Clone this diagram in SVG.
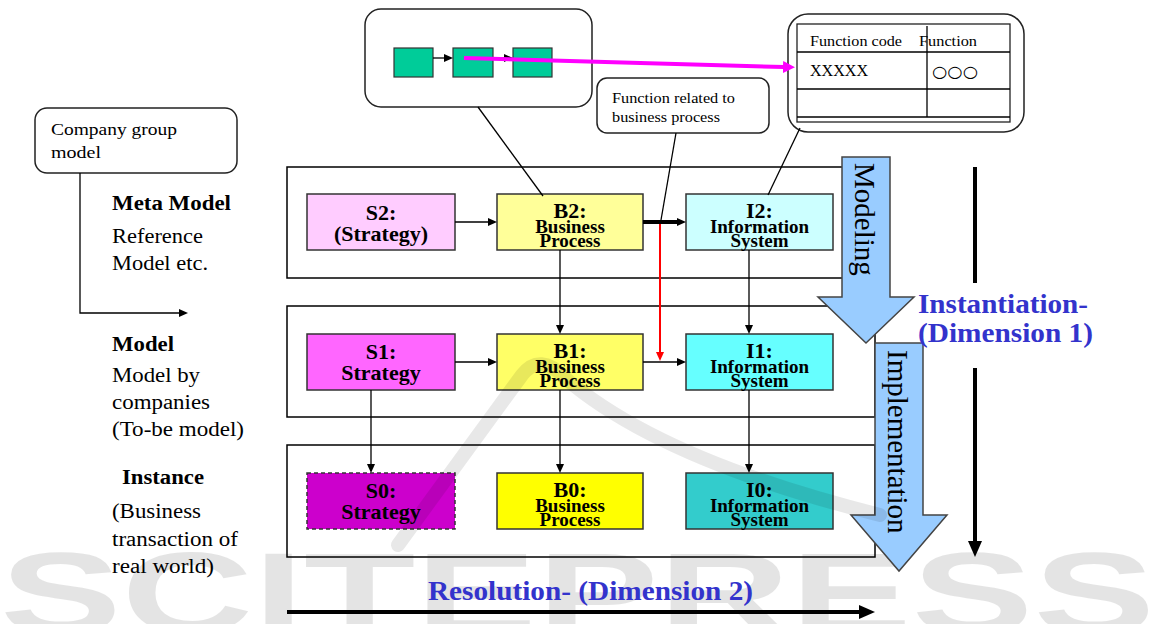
<svg xmlns="http://www.w3.org/2000/svg" width="1161" height="624" viewBox="0 0 1161 624">
<style>
.frame{fill:none;stroke:#000;stroke-width:1.5}
.node{stroke:#333;stroke-width:1.5}
.rbox{fill:#fff;stroke:#222;stroke-width:1.5}
.ln{fill:none;stroke:#000;stroke-width:1.3}
.t{font-family:"Liberation Serif","Times New Roman",serif;fill:#000}
.nb{font-family:"Liberation Serif","Times New Roman",serif;font-weight:bold;fill:#000;text-anchor:middle}
.blue{font-family:"Liberation Serif","Times New Roman",serif;font-weight:bold;fill:#3333CC}
.blk{fill:#99CCFF;stroke:#444;stroke-width:1.5}
</style>
<defs>
<marker id="a" viewBox="0 0 9 8" refX="1" refY="4" markerWidth="9" markerHeight="8" markerUnits="userSpaceOnUse" orient="auto"><path d="M0,0 L9,4 L0,8 z" fill="#000"/></marker>
<marker id="ar" viewBox="0 0 9 8" refX="1" refY="4" markerWidth="9" markerHeight="8" markerUnits="userSpaceOnUse" orient="auto"><path d="M0,0 L9,4 L0,8 z" fill="#FF0000"/></marker>
<marker id="am" viewBox="0 0 12 12" refX="1" refY="6" markerWidth="12" markerHeight="12" markerUnits="userSpaceOnUse" orient="auto"><path d="M0,0 L12,6 L0,12 z" fill="#FF00FF"/></marker>
<marker id="ab" viewBox="0 0 16 14" refX="1" refY="7" markerWidth="16" markerHeight="14" markerUnits="userSpaceOnUse" orient="auto"><path d="M0,0 L16,7 L0,14 z" fill="#000"/></marker>
</defs>
<rect width="1161" height="624" fill="#fff"/>

<!-- watermark (behind) -->
<g id="watermark" opacity="0.1">
<text x="0" y="633" font-family="Liberation Sans,Arial,sans-serif" font-weight="bold" font-size="115" textLength="1155" lengthAdjust="spacingAndGlyphs" fill="#000">SCITEPRESS</text>
</g>

<!-- layer frames -->
<g id="frames">
<rect class="frame" x="287" y="167" width="588" height="111"/>
<rect class="frame" x="287" y="306" width="588" height="111"/>
<rect class="frame" x="287" y="445" width="588" height="112"/>
</g>

<!-- top process box -->
<g id="process-box">
<rect class="rbox" x="365" y="9" width="227" height="98" rx="16"/>
<rect x="394" y="48" width="39" height="29" fill="#00CC99" stroke="#333" stroke-width="1.2"/>
<rect x="453" y="48" width="40" height="29" fill="#00CC99" stroke="#333" stroke-width="1.2"/>
<rect x="513" y="48" width="39" height="29" fill="#00CC99" stroke="#333" stroke-width="1.2"/>
<line class="ln" x1="433" y1="58" x2="445" y2="58" marker-end="url(#a)"/>
<line class="ln" x1="493" y1="58" x2="505" y2="58" marker-end="url(#a)"/>
</g>

<!-- function table -->
<g id="function-table">
<rect class="rbox" x="788" y="14" width="236" height="118" rx="20"/>
<rect x="797" y="24" width="213" height="98" fill="none" stroke="#222" stroke-width="1.3"/>
<line class="ln" x1="797" y1="52" x2="1010" y2="52"/>
<line class="ln" x1="797" y1="89" x2="1010" y2="89"/>
<line class="ln" x1="797" y1="117" x2="1010" y2="117"/>
<line class="ln" x1="927" y1="26" x2="927" y2="117"/>
<text class="t" x="810" y="46" font-size="15.5" textLength="92" lengthAdjust="spacingAndGlyphs">Function code</text>
<text class="t" x="919" y="46" font-size="15.5" textLength="58" lengthAdjust="spacingAndGlyphs">Function</text>
<text class="t" x="810" y="76" font-size="16" textLength="58" lengthAdjust="spacingAndGlyphs">XXXXX</text>
<text x="932" y="77" font-size="16" font-family="DejaVu Sans,sans-serif" textLength="46" lengthAdjust="spacingAndGlyphs">○○○</text>
</g>

<!-- callout -->
<g id="callout">
<rect class="rbox" x="597" y="78" width="172" height="55" rx="10"/>
<text class="t" x="612" y="103" font-size="15.5" textLength="123" lengthAdjust="spacingAndGlyphs">Function related to</text>
<text class="t" x="612" y="122" font-size="15.5" textLength="108" lengthAdjust="spacingAndGlyphs">business process</text>
</g>

<!-- company group model -->
<g id="company-group">
<rect class="rbox" x="35" y="108" width="202" height="65" rx="12"/>
<text class="t" x="51" y="135" font-size="17" textLength="126" lengthAdjust="spacingAndGlyphs">Company group</text>
<text class="t" x="51" y="158" font-size="17" textLength="50" lengthAdjust="spacingAndGlyphs">model</text>
</g>

<!-- nodes -->
<g id="S2"><rect class="node" x="307" y="194" width="148" height="56" fill="#FFCCFF"/>
<text class="nb" x="381" y="220" font-size="22">S2:</text><text class="nb" x="381" y="241" font-size="22">(Strategy)</text></g>
<g id="B2"><rect class="node" x="497" y="194" width="146" height="56" fill="#FFFF99"/>
<text class="nb" x="570" y="218" font-size="22">B2:</text><text class="nb" x="570" y="233" font-size="19">Business</text><text class="nb" x="570" y="247" font-size="19">Process</text></g>
<g id="I2"><rect class="node" x="686" y="194" width="147" height="56" fill="#CCFFFF"/>
<text class="nb" x="759.5" y="218" font-size="22">I2:</text><text class="nb" x="759.5" y="233" font-size="19">Information</text><text class="nb" x="759.5" y="247" font-size="19">System</text></g>

<g id="S1"><rect class="node" x="307" y="334" width="148" height="56" fill="#FF66FF"/>
<text class="nb" x="381" y="359" font-size="22">S1:</text><text class="nb" x="381" y="380" font-size="22">Strategy</text></g>
<g id="B1"><rect class="node" x="497" y="334" width="146" height="56" fill="#FFFF66"/>
<text class="nb" x="570" y="358" font-size="22">B1:</text><text class="nb" x="570" y="373" font-size="19">Business</text><text class="nb" x="570" y="387" font-size="19">Process</text></g>
<g id="I1"><rect class="node" x="686" y="334" width="147" height="56" fill="#66FFFF"/>
<text class="nb" x="759.5" y="358" font-size="22">I1:</text><text class="nb" x="759.5" y="373" font-size="19">Information</text><text class="nb" x="759.5" y="387" font-size="19">System</text></g>

<g id="S0"><rect class="node" x="307" y="473" width="148" height="56" fill="#CC00CC" stroke-dasharray="4,3"/>
<text class="nb" x="381" y="498" font-size="22">S0:</text><text class="nb" x="381" y="519" font-size="22">Strategy</text></g>
<g id="B0"><rect class="node" x="497" y="473" width="146" height="56" fill="#FFFF00"/>
<text class="nb" x="570" y="497" font-size="22">B0:</text><text class="nb" x="570" y="512" font-size="19">Business</text><text class="nb" x="570" y="526" font-size="19">Process</text></g>
<g id="I0"><rect class="node" x="686" y="473" width="147" height="56" fill="#33CCCC"/>
<text class="nb" x="759.5" y="497" font-size="22">I0:</text><text class="nb" x="759.5" y="512" font-size="19">Information</text><text class="nb" x="759.5" y="526" font-size="19">System</text></g>

<!-- connectors -->
<g id="connectors">
<line class="ln" x1="455" y1="222" x2="489" y2="222" marker-end="url(#a)"/>
<line x1="643" y1="222" x2="678" y2="222" stroke="#000" stroke-width="4" marker-end="url(#a)"/>
<line class="ln" x1="455" y1="362" x2="489" y2="362" marker-end="url(#a)"/>
<line class="ln" x1="643" y1="362" x2="678" y2="362" marker-end="url(#a)"/>
<line class="ln" x1="560" y1="250" x2="560" y2="326" marker-end="url(#a)"/>
<line class="ln" x1="749" y1="250" x2="749" y2="326" marker-end="url(#a)"/>
<line class="ln" x1="371" y1="390" x2="371" y2="465" marker-end="url(#a)"/>
<line class="ln" x1="560" y1="390" x2="560" y2="465" marker-end="url(#a)"/>
<line class="ln" x1="749" y1="390" x2="749" y2="465" marker-end="url(#a)"/>
<line x1="660" y1="224" x2="660" y2="353" stroke="#FF0000" stroke-width="2" marker-end="url(#ar)"/>
<line class="ln" x1="478" y1="107" x2="543" y2="196"/>
<line class="ln" x1="676" y1="133" x2="661" y2="220"/>
<line class="ln" x1="800" y1="128" x2="768" y2="195"/>
<line x1="464" y1="58" x2="784" y2="67" stroke="#FF00FF" stroke-width="4" marker-end="url(#am)"/>
<path class="ln" d="M80,173 V313 H180" stroke-width="1.5" marker-end="url(#a)"/>
<line x1="975" y1="167" x2="975" y2="283" stroke="#000" stroke-width="4"/>
<line x1="975" y1="368" x2="975" y2="542" stroke="#000" stroke-width="4" marker-end="url(#ab)"/>
<line x1="287" y1="612" x2="860" y2="612" stroke="#000" stroke-width="4" marker-end="url(#ab)"/>
</g>

<!-- block arrows -->
<g id="modeling">
<polygon class="blk" points="842,157 890,157 890,297 914,297 866,343 818,297 842,297"/>
<text class="t" font-size="29" transform="translate(855,163) rotate(90)">Modeling</text>
</g>
<g id="implementation">
<polygon class="blk" points="875,343 923,343 923,515 947,515 899,571 851,515 875,515"/>
<text class="t" font-size="29" transform="translate(888,350) rotate(90)">Implementation</text>
</g>

<!-- left labels -->
<g id="left-labels">
<text class="t" x="112" y="210" font-size="20" font-weight="bold" textLength="119" lengthAdjust="spacingAndGlyphs">Meta Model</text>
<text class="t" x="112" y="243" font-size="20" textLength="91" lengthAdjust="spacingAndGlyphs">Reference</text>
<text class="t" x="112" y="270" font-size="20" textLength="96" lengthAdjust="spacingAndGlyphs">Model etc.</text>
<text class="t" x="112" y="351" font-size="20" font-weight="bold" textLength="62" lengthAdjust="spacingAndGlyphs">Model</text>
<text class="t" x="112" y="382" font-size="20" textLength="88" lengthAdjust="spacingAndGlyphs">Model by</text>
<text class="t" x="112" y="409" font-size="20" textLength="98" lengthAdjust="spacingAndGlyphs">companies</text>
<text class="t" x="112" y="436" font-size="20" textLength="132" lengthAdjust="spacingAndGlyphs">(To-be model)</text>
<text class="t" x="122" y="484" font-size="20" font-weight="bold" textLength="82" lengthAdjust="spacingAndGlyphs">Instance</text>
<text class="t" x="112" y="518" font-size="20" textLength="89" lengthAdjust="spacingAndGlyphs">(Business</text>
<text class="t" x="112" y="546" font-size="20" textLength="126" lengthAdjust="spacingAndGlyphs">transaction of</text>
<text class="t" x="112" y="573" font-size="20" textLength="102" lengthAdjust="spacingAndGlyphs">real world)</text>
</g>

<!-- dimension labels -->
<g id="dimension-labels">
<text class="blue" x="918" y="313" font-size="27" textLength="170" lengthAdjust="spacingAndGlyphs">Instantiation-</text>
<text class="blue" x="918" y="342" font-size="27" textLength="175" lengthAdjust="spacingAndGlyphs">(Dimension 1)</text>
<text class="blue" x="428" y="600" font-size="27" textLength="325" lengthAdjust="spacingAndGlyphs">Resolution- (Dimension 2)</text>
</g>

<!-- watermark logo stroke (translucent, on top) -->
<path d="M398,545 L522,375 Q540,352 565,378 Q660,460 880,515" fill="none" stroke="#000" stroke-opacity="0.09" stroke-width="14" stroke-linecap="round"/>
</svg>
